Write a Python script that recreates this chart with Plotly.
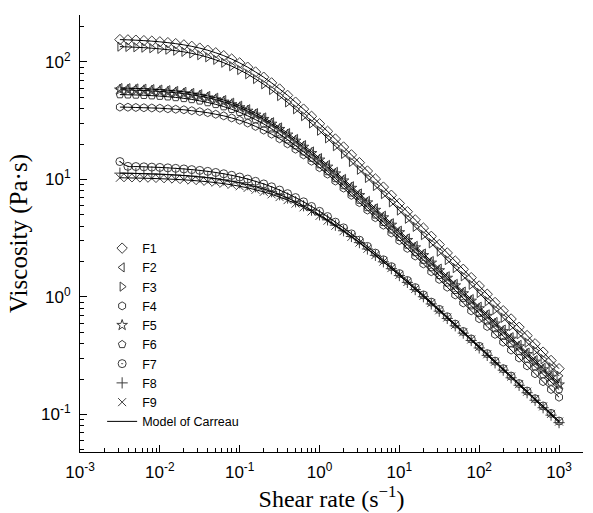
import plotly.graph_objects as go

# Shear rate (s^-1) measurement points
shear_rate = [0.00316, 0.00398, 0.00501, 0.00631, 0.00794, 0.01, 0.0126, 0.0158, 0.02, 0.0251,
              0.0316, 0.0398, 0.0501, 0.0631, 0.0794, 0.1, 0.126, 0.158, 0.2, 0.251,
              0.316, 0.398, 0.501, 0.631, 0.794, 1.0, 1.26, 1.58, 2.0, 2.51,
              3.16, 3.98, 5.01, 6.31, 7.94, 10.0, 12.6, 15.8, 20.0, 25.1,
              31.6, 39.8, 50.1, 63.1, 79.4, 100.0, 126.0, 158.0, 200.0, 251.0,
              316.0, 398.0, 501.0, 631.0, 794.0, 1000.0]

# Viscosity (Pa.s) per formulation
F1 = [155.1, 154.3, 153.3, 152.0, 150.4, 148.5, 146.1, 143.3, 139.9, 135.9,
      131.3, 125.9, 119.8, 113.2, 105.9, 98.2, 90.3, 82.2, 74.2, 66.4,
      58.9, 52.0, 45.5, 39.7, 34.5, 29.8, 25.7, 22.1, 18.9, 16.2,
      13.9, 11.8, 10.1, 8.61, 7.34, 6.25, 5.32, 4.53, 3.86, 3.28,
      2.79, 2.37, 2.02, 1.72, 1.46, 1.24, 1.055, 0.897, 0.763, 0.649,
      0.552, 0.469, 0.399, 0.339, 0.288, 0.245]
F2 = [60.0, 59.8, 59.5, 59.2, 58.7, 58.2, 57.5, 56.7, 55.7, 54.5,
      53.1, 51.4, 49.6, 47.4, 45.0, 42.4, 39.6, 36.7, 33.7, 30.7,
      27.7, 24.8, 22.1, 19.6, 17.3, 15.2, 13.3, 11.6, 10.1, 8.75,
      7.59, 6.57, 5.68, 4.91, 4.24, 3.66, 3.15, 2.72, 2.34, 2.02,
      1.74, 1.50, 1.29, 1.11, 0.958, 0.825, 0.711, 0.612, 0.527, 0.454,
      0.391, 0.336, 0.290, 0.249, 0.215, 0.185]
F3 = [135.1, 134.4, 133.5, 132.4, 131.0, 129.3, 127.3, 124.8, 121.9, 118.4,
      114.4, 109.7, 104.3, 98.6, 92.2, 85.5, 78.7, 71.6, 64.6, 57.8,
      51.3, 45.3, 39.6, 34.6, 30.0, 26.0, 22.4, 19.2, 16.5, 14.1,
      12.1, 10.3, 8.80, 7.50, 6.39, 5.44, 4.63, 3.95, 3.36, 2.86,
      2.43, 2.06, 1.76, 1.50, 1.27, 1.08, 0.919, 0.781, 0.665, 0.565,
      0.481, 0.408, 0.348, 0.295, 0.251, 0.213]
F4 = [41.3, 41.2, 41.0, 40.8, 40.6, 40.4, 40.0, 39.6, 39.2, 38.5,
      37.8, 37.0, 35.9, 34.8, 33.4, 31.9, 30.2, 28.3, 26.3, 24.3,
      22.2, 20.1, 18.1, 16.2, 14.3, 12.6, 11.1, 9.70, 8.44, 7.33,
      6.35, 5.49, 4.73, 4.08, 3.51, 3.02, 2.59, 2.23, 1.91, 1.64,
      1.41, 1.21, 1.04, 0.889, 0.762, 0.653, 0.560, 0.480, 0.412, 0.353,
      0.302, 0.259, 0.222, 0.190, 0.163, 0.140]
F5 = [58.0, 57.8, 57.5, 57.2, 56.7, 56.2, 55.5, 54.8, 53.8, 52.6,
      51.3, 49.7, 47.9, 45.8, 43.5, 41.0, 38.3, 35.5, 32.6, 29.7,
      26.8, 24.0, 21.3, 18.9, 16.7, 14.7, 12.8, 11.2, 9.76, 8.45,
      7.33, 6.35, 5.49, 4.74, 4.10, 3.54, 3.04, 2.63, 2.26, 1.95,
      1.68, 1.45, 1.25, 1.07, 0.925, 0.797, 0.687, 0.591, 0.509, 0.439,
      0.378, 0.325, 0.280, 0.241, 0.208, 0.179]
F6 = [52.8, 52.6, 52.4, 52.1, 51.7, 51.2, 50.6, 49.9, 49.0, 48.0,
      46.7, 45.2, 43.6, 41.7, 39.6, 37.3, 34.8, 32.3, 29.7, 27.0,
      24.4, 21.8, 19.4, 17.2, 15.2, 13.4, 11.7, 10.2, 8.89, 7.70,
      6.68, 5.78, 5.00, 4.32, 3.73, 3.22, 2.77, 2.39, 2.06, 1.78,
      1.53, 1.32, 1.14, 0.977, 0.843, 0.726, 0.626, 0.539, 0.464, 0.400,
      0.344, 0.296, 0.255, 0.219, 0.189, 0.163]
F7 = [14.2, 12.93, 12.88, 12.81, 12.74, 12.66, 12.55, 12.43, 12.29, 12.13,
      11.94, 11.72, 11.47, 11.18, 10.85, 10.49, 10.08, 9.64, 9.16, 8.66,
      8.12, 7.57, 7.01, 6.45, 5.89, 5.35, 4.83, 4.33, 3.87, 3.44,
      3.04, 2.69, 2.36, 2.07, 1.81, 1.58, 1.38, 1.20, 1.04, 0.903,
      0.783, 0.678, 0.587, 0.508, 0.439, 0.380, 0.329, 0.284, 0.245, 0.212,
      0.183, 0.158, 0.136, 0.118, 0.102, 0.0878]
F8 = [11.32, 11.29, 11.25, 11.20, 11.14, 11.08, 11.00, 10.91, 10.80, 10.67,
      10.52, 10.35, 10.15, 9.92, 9.66, 9.37, 9.04, 8.68, 8.29, 7.87,
      7.42, 6.95, 6.46, 5.97, 5.48, 5.00, 4.53, 4.08, 3.66, 3.27,
      2.90, 2.56, 2.26, 1.99, 1.74, 1.52, 1.33, 1.155, 1.004, 0.872,
      0.757, 0.656, 0.568, 0.492, 0.426, 0.368, 0.318, 0.275, 0.238, 0.205,
      0.177, 0.153, 0.132, 0.114, 0.0986, 0.0851]
F9 = [10.34, 10.31, 10.28, 10.25, 10.20, 10.15, 10.09, 10.01, 9.93, 9.82,
      9.70, 9.56, 9.40, 9.21, 9.00, 8.75, 8.48, 8.17, 7.84, 7.47,
      7.08, 6.67, 6.23, 5.79, 5.34, 4.90, 4.46, 4.04, 3.63, 3.25,
      2.90, 2.57, 2.27, 2.00, 1.76, 1.54, 1.34, 1.17, 1.02, 0.887,
      0.770, 0.668, 0.579, 0.501, 0.434, 0.375, 0.325, 0.281, 0.243, 0.210,
      0.181, 0.156, 0.135, 0.117, 0.101, 0.0869]

series_names = ["F1", "F2", "F3", "F4", "F5", "F6", "F7", "F8", "F9"]
series_values = [F1, F2, F3, F4, F5, F6, F7, F8, F9]
series_symbols = ["diamond-open", "triangle-left-open", "triangle-right-open", "hexagon-open",
                  "star-open", "pentagon-open", "circle-open-dot", "cross-thin", "x-thin"]
model_name = "Model of Carreau"

x_tick_vals = [1e-3, 1e-2, 1e-1, 1e0, 1e1, 1e2, 1e3]
x_tick_text = ["10<sup>-3</sup>", "10<sup>-2</sup>", "10<sup>-1</sup>", "10<sup>0</sup>",
               "10<sup>1</sup>", "10<sup>2</sup>", "10<sup>3</sup>"]
y_tick_vals = [1e-1, 1e0, 1e1, 1e2]
y_tick_text = ["10<sup>-1</sup>", "10<sup>0</sup>", "10<sup>1</sup>", "10<sup>2</sup>"]

x_minor = [m * 10.0 ** e for e in range(-3, 4) for m in range(2, 10)]
y_minor = [m * 10.0 ** e for e in range(-2, 3) for m in range(2, 10)]

mark_color = "#3c3c3c"
fig = go.Figure()
for name, vals, sym in zip(series_names, series_values, series_symbols):
    fig.add_trace(go.Scatter(
        x=shear_rate, y=vals, mode="markers", name=name,
        marker=dict(symbol=sym, size=8, color=mark_color,
                    line=dict(color=mark_color, width=1))))
for i, vals in enumerate(series_values):
    fig.add_trace(go.Scatter(
        x=shear_rate, y=vals, mode="lines", name=model_name,
        showlegend=(i == 0), line=dict(color="black", width=1, shape="spline")))

tick_font = dict(family="Liberation Sans, Arial, sans-serif", size=17, color="black")
x_title_font = dict(family="Liberation Serif, Times New Roman, serif", size=24, color="black")
y_title_font = dict(family="Liberation Serif, Times New Roman, serif", size=25, color="black")

fig.update_layout(
    width=593, height=513,
    margin=dict(l=80, r=10, t=15, b=61),
    plot_bgcolor="white", paper_bgcolor="white",
    showlegend=True,
    legend=dict(x=0.044, y=0.5, xanchor="left", yanchor="top",
                bgcolor="rgba(0,0,0,0)", tracegroupgap=0,
                font=dict(family="Liberation Sans, Arial, sans-serif", size=12.5, color="black")),
)
fig.update_xaxes(
    type="log", range=[-3, 3.3],
    showline=True, linecolor="black", linewidth=1,
    showgrid=False, zeroline=False,
    ticks="inside", ticklen=7, tickwidth=1, tickcolor="black",
    tickmode="array", tickvals=x_tick_vals, ticktext=x_tick_text,
    tickfont=tick_font, ticklabelstandoff=5,
    minor=dict(ticks="inside", ticklen=4, tickcolor="black", tickmode="array",
               tickvals=x_minor, showgrid=False),
    title=dict(text="Shear rate (s<sup>−1</sup>)", font=x_title_font, standoff=0),
)
fig.update_yaxes(
    type="log", range=[-1.32, 2.4],
    showline=True, linecolor="black", linewidth=1,
    showgrid=False, zeroline=False,
    ticks="inside", ticklen=7, tickwidth=1, tickcolor="black",
    tickmode="array", tickvals=y_tick_vals, ticktext=y_tick_text,
    tickfont=tick_font, ticklabelstandoff=5,
    minor=dict(ticks="inside", ticklen=4, tickcolor="black", tickmode="array",
               tickvals=y_minor, showgrid=False),
    title=dict(text="Viscosity (Pa·s)", font=y_title_font, standoff=6),
)

fig.write_html("out.html", config={"displayModeBar": False},
               post_script="document.body.style.margin='0px';")
